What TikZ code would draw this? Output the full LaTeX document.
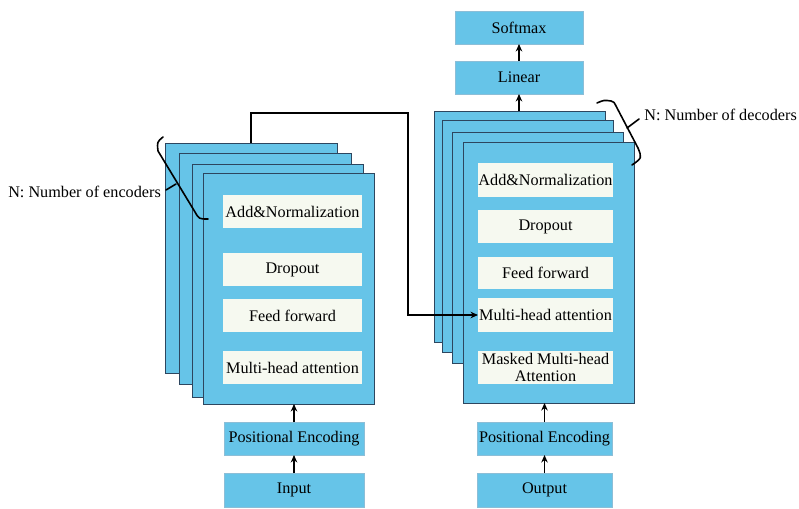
\documentclass[tikz,border=0pt]{standalone}
\usepackage{fontspec}
\setmainfont{Liberation Serif}
\usetikzlibrary{arrows.meta}
\definecolor{blu}{RGB}{102,196,232}
\definecolor{edge}{RGB}{45,70,95}
\definecolor{lightedge}{RGB}{140,190,215}
\definecolor{inner}{RGB}{246,249,240}
\begin{document}
\begin{tikzpicture}[x=1pt,y=-1pt,
  every node/.style={font=\fontsize{16.2}{17.5}\selectfont},
  layer/.style={draw=edge, fill=blu, line width=0.9pt, inner sep=0pt, outer sep=0pt, anchor=north west},
  sub/.style={draw=none, fill=inner, inner sep=0pt, outer sep=0pt, anchor=north west, align=center},
  ext/.style={draw=lightedge, fill=blu, line width=0.5pt, inner sep=0pt, outer sep=0pt, anchor=north west},
  arr/.style={-{Stealth[length=7.5pt,width=6.5pt]}, line width=1.1pt, black},
  brc/.style={line width=1.6pt, black, line cap=round, line join=round},
  lab/.style={inner sep=0pt}]
\useasboundingbox (0,0) rectangle (799,508);
% encoder stack
\node[layer, minimum width=172pt, minimum height=230pt] (e1) at (165,143) {};
\node[layer, minimum width=172pt, minimum height=231pt] (e2) at (179,153) {};
\node[layer, minimum width=171pt, minimum height=233pt] (e3) at (192,164) {};
\node[layer, minimum width=171pt, minimum height=231pt] (e4) at (203,173) {};
\node[sub, minimum width=139pt, minimum height=33pt] (ea) at (223,195) {Add\&Normalization};
\node[sub, minimum width=139pt, minimum height=33pt] (ed) at (223,253) {Dropout};
\node[sub, minimum width=139pt, minimum height=33pt] (ef) at (223,299) {Feed forward};
\node[sub, minimum width=139pt, minimum height=33pt] (em) at (223,351) {Multi-head attention};
% decoder stack
\node[layer, minimum width=171pt, minimum height=231pt] (d1) at (434,111) {};
\node[layer, minimum width=171pt, minimum height=232pt] (d2) at (442,120) {};
\node[layer, minimum width=171pt, minimum height=231pt] (d3) at (452,132) {};
\node[layer, minimum width=171pt, minimum height=261pt] (d4) at (463,142) {};
\node[sub, minimum width=135pt, minimum height=34pt] (da) at (478,163) {Add\&Normalization};
\node[sub, minimum width=135pt, minimum height=33pt] (dd) at (478,210) {Dropout};
\node[sub, minimum width=135pt, minimum height=32pt] (df) at (478,257) {Feed forward};
\node[sub, minimum width=135pt, minimum height=34pt] (dm) at (478,298) {Multi-head attention};
\node[sub, minimum width=135pt, minimum height=33pt] (dk) at (478,351) {Masked Multi-head\\Attention};
% top boxes
\node[ext, minimum width=128pt, minimum height=33pt] (soft) at (455,11) {Softmax};
\node[ext, minimum width=128pt, minimum height=33pt] (lin) at (455,61) {Linear};
% bottom boxes
\node[ext, minimum width=140pt, minimum height=33pt] (pe1) at (224,422) {Positional Encoding};
\node[ext, minimum width=140pt, minimum height=34pt] (inp) at (224,473) {Input};
\node[ext, minimum width=135pt, minimum height=33pt] (pe2) at (477,422) {Positional Encoding};
\node[ext, minimum width=135pt, minimum height=34pt] (outp) at (477,473) {Output};
% arrows
\draw[arr] (inp.north) -- (pe1.south);
\draw[arr] (pe1.north) -- (pe1.north |- e4.south);
\draw[arr] (outp.north) -- (pe2.south);
\draw[arr] (pe2.north) -- (pe2.north |- d4.south);
\draw[arr] (lin.south |- d1.north) -- (lin.south);
\draw[arr] (lin.north) -- (soft.south);
% encoder to decoder connector
\coordinate (cstart) at (251,143);
\draw[arr, line width=1.2pt] (cstart) -- (251,113) -- (408,113) -- (408,315) -- (dm.west);
% braces
\draw[brc] (163,137) .. controls (157,142) .. (158,151) -- (195,212) .. controls (199,219) .. (208,219);
\draw[brc] (176,184) -- (166,190);
\draw[brc] (597,103) .. controls (604,100) .. (611,101) .. controls (614,102) .. (616,106) -- (638,148) .. controls (642,158) .. (632,165);
\draw[brc] (627,128) -- (639,119);
% labels
\node[lab, anchor=east] (lenc) at (161,192) {N: Number of encoders};
\node[lab, anchor=east] (ldec) at (797,115) {N: Number of decoders};
\end{tikzpicture}
\end{document}
